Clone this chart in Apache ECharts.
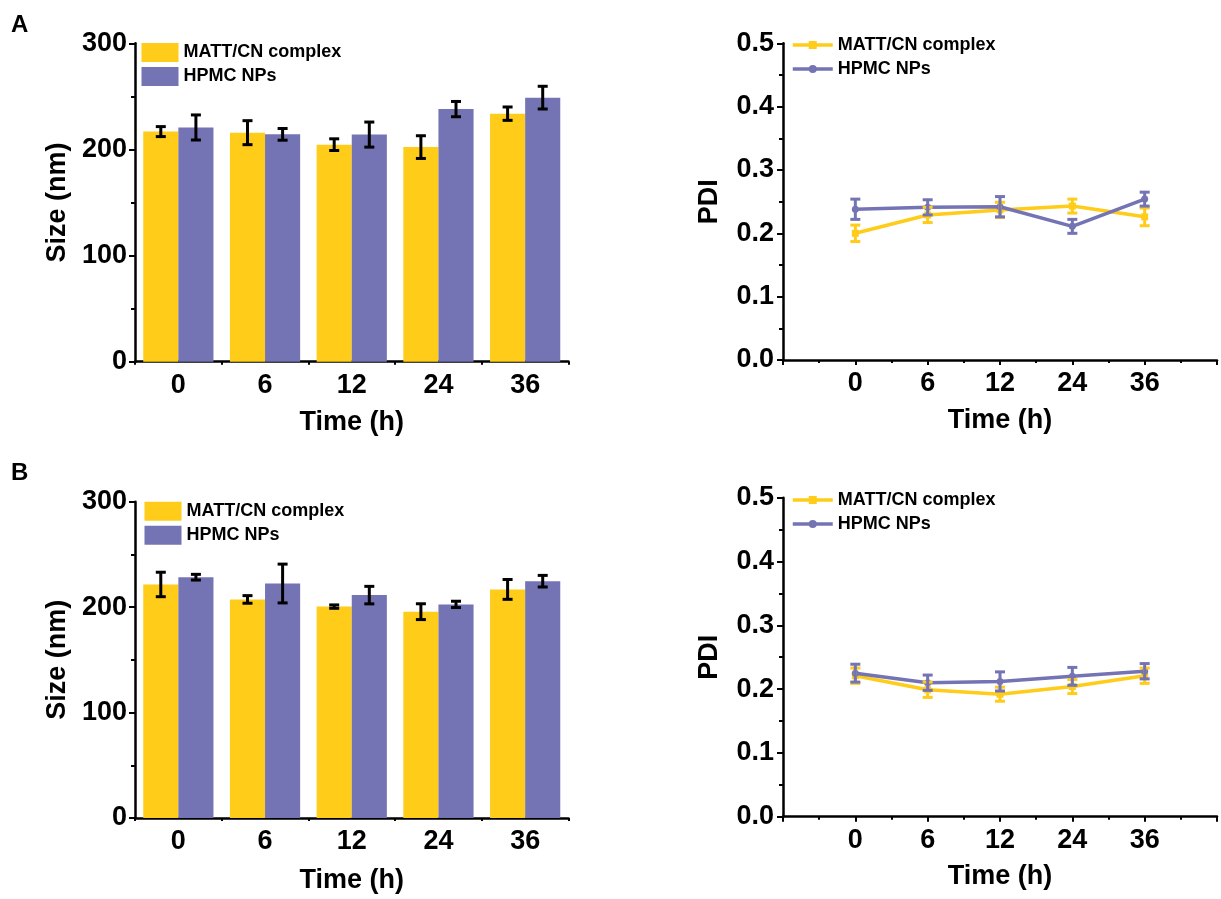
<!DOCTYPE html>
<html>
<head>
<meta charset="utf-8">
<script src="https://cdn.jsdelivr.net/npm/echarts@6/dist/echarts.min.js"></script>
<style>
  html, body { margin: 0; padding: 0; background: #fff; }
  #wrap { position: relative; width: 1221px; height: 899px; background: #fff; overflow: hidden; }
  .pane { position: absolute; }
</style>
</head>
<body>
<div id="wrap">
  <div id="tl" class="pane" style="left:0;top:0;width:610px;height:450px"></div>
  <div id="tr" class="pane" style="left:610px;top:0;width:611px;height:450px"></div>
  <div id="bl" class="pane" style="left:0;top:450px;width:610px;height:449px"></div>
  <div id="br" class="pane" style="left:610px;top:450px;width:611px;height:449px"></div>
</div>
<script>
// ---------------- DATA ----------------
const timeLabels = ['0', '6', '12', '24', '36'];
const seriesNames = ['MATT/CN complex', 'HPMC NPs'];

// Panel A – size (nm)
const sizeA_MATT     = [216.8, 215.8, 204.5, 202.2, 233.7];
const sizeA_MATT_err = [4.7, 11.3, 5.5, 10.7, 6.3];
const sizeA_HPMC     = [220.7, 214.2, 214.0, 238.0, 248.8];
const sizeA_HPMC_err = [11.8, 5.5, 11.8, 7.2, 10.7];
// Panel A – PDI
const pdiA_MATT      = [0.200, 0.229, 0.237, 0.243, 0.226];
const pdiA_MATT_err  = [0.013, 0.012, 0.012, 0.011, 0.014];
const pdiA_HPMC      = [0.238, 0.241, 0.242, 0.211, 0.254];
const pdiA_HPMC_err  = [0.016, 0.012, 0.016, 0.011, 0.011];

// Panel B – size (nm)
const sizeB_MATT     = [221.5, 207.3, 200.5, 195.7, 216.8];
const sizeB_MATT_err = [11.6, 3.6, 1.6, 7.5, 9.4];
const sizeB_HPMC     = [228.4, 222.4, 211.4, 202.6, 224.6];
const sizeB_HPMC_err = [2.7, 18.4, 8.3, 3.0, 5.5];
// Panel B – PDI
const pdiB_MATT      = [0.221, 0.199, 0.192, 0.204, 0.221];
const pdiB_MATT_err  = [0.012, 0.012, 0.011, 0.011, 0.012];
const pdiB_HPMC      = [0.225, 0.210, 0.212, 0.220, 0.228];
const pdiB_HPMC_err  = [0.014, 0.012, 0.015, 0.014, 0.012];

// ---------------- STYLE ----------------
const YELLOW = '#FECC19';
const PURPLE = '#7473B4';
const FONT = "'Liberation Sans', Arial, Helvetica, sans-serif";
const AXIS_FONT = 27;
const LEGEND_FONT = 18;
const CAT_GAP = 0.19;

function txt(size) {
  return { fontFamily: FONT, fontWeight: 'bold', fontSize: size, color: '#000' };
}

function errorBarSeries(vals, errs, color, xFn, capHalf, lineW, z) {
  return {
    type: 'custom',
    silent: true,
    z: z,
    data: vals.map((v, i) => [i, v, errs[i]]),
    renderItem: function (params, api) {
      const i = api.value(0), v = api.value(1), e = api.value(2);
      const top = api.coord([xFn(i), v + e]);
      const bot = api.coord([xFn(i), v - e]);
      const x = xFn.px ? xFn.px(api, top[0]) : top[0];
      const style = { stroke: color, lineWidth: lineW };
      return {
        type: 'group',
        children: [
          { type: 'line', shape: { x1: x, y1: top[1], x2: x, y2: bot[1] }, style: style },
          { type: 'line', shape: { x1: x - capHalf, y1: top[1], x2: x + capHalf, y2: top[1] }, style: style },
          { type: 'line', shape: { x1: x - capHalf, y1: bot[1], x2: x + capHalf, y2: bot[1] }, style: style }
        ]
      };
    }
  };
}

function barOption(cfg) {
  const mkErr = (vals, errs, side) => {
    const xFn = function (i) { return i; };
    xFn.px = function (api, cx) {
      const band = api.size([1, 0])[0];
      const barW = band * (1 - CAT_GAP) / 2;
      return cx + side * barW / 2;
    };
    return errorBarSeries(vals, errs, '#000', xFn, 5, 3, 10);
  };
  return {
    animation: false,
    backgroundColor: '#fff',
    graphic: [{
      type: 'text', left: 11, top: cfg.letterTop,
      style: { text: cfg.letter, font: 'bold 24px ' + FONT, fill: '#000' }
    }],
    legend: {
      orient: 'vertical', left: cfg.legendLeft, top: cfg.legendTop, padding: 0,
      itemWidth: 37, itemHeight: 19, itemGap: 5, icon: 'rect',
      textStyle: txt(LEGEND_FONT),
      data: seriesNames
    },
    grid: { left: 135, top: cfg.gridTop, width: 433.5, height: cfg.gridHeight },
    xAxis: [{
      type: 'category', data: timeLabels, position: 'bottom',
      name: 'Time (h)', nameLocation: 'middle', nameGap: cfg.nameGapX, nameTextStyle: txt(AXIS_FONT),
      axisLine: { lineStyle: { color: '#000', width: 2.5 } },
      axisTick: { alignWithLabel: true, length: 5, lineStyle: { color: '#000', width: 2 } },
      axisLabel: Object.assign(txt(AXIS_FONT), { margin: 10 }),
      splitLine: { show: false }
    }, {
      type: 'category', data: timeLabels, position: 'bottom', offset: 0,
      axisLine: { show: false },
      axisTick: { show: true, alignWithLabel: false, length: 3, lineStyle: { color: '#000', width: 2 } },
      axisLabel: { show: false },
      splitLine: { show: false }
    }],
    yAxis: {
      type: 'value', min: 0, max: 300, interval: 100,
      name: 'Size (nm)', nameLocation: 'middle', nameGap: 63, nameTextStyle: txt(AXIS_FONT),
      axisLine: { show: true, lineStyle: { color: '#000', width: 2.5 } },
      axisTick: { show: true, length: 6, lineStyle: { color: '#000', width: 2 } },
      minorTick: { show: true, splitNumber: 2, length: 4, lineStyle: { color: '#000', width: 2 } },
      axisLabel: Object.assign(txt(AXIS_FONT), { margin: 8 }),
      splitLine: { show: false }
    },
    series: [
      { name: seriesNames[0], type: 'bar', data: cfg.m, itemStyle: { color: YELLOW },
        barGap: '0%', barCategoryGap: (CAT_GAP * 100) + '%' },
      { name: seriesNames[1], type: 'bar', data: cfg.h, itemStyle: { color: PURPLE },
        barGap: '0%', barCategoryGap: (CAT_GAP * 100) + '%' },
      mkErr(cfg.m, cfg.me, -1),
      mkErr(cfg.h, cfg.he, 1)
    ]
  };
}

function lineOption(cfg) {
  const toXY = vals => vals.map((v, i) => [i + 1, v]);
  const xFn = function (i) { return i + 1; };
  return {
    animation: false,
    backgroundColor: '#fff',
    legend: {
      orient: 'vertical', left: 181, top: cfg.legendTop, padding: 0,
      itemWidth: 40, itemHeight: 10, itemGap: 6,
      lineStyle: { width: 3.5 },
      textStyle: txt(LEGEND_FONT),
      data: seriesNames
    },
    grid: { left: 173, top: cfg.gridTop, width: 434, height: cfg.gridHeight },
    xAxis: {
      type: 'value', min: 0, max: 6, interval: 1,
      name: 'Time (h)', nameLocation: 'middle', nameGap: cfg.nameGapX, nameTextStyle: txt(AXIS_FONT),
      axisLine: { show: true, lineStyle: { color: '#000', width: 2.5 } },
      axisTick: { show: true, length: 5, lineStyle: { color: '#000', width: 2 } },
      minorTick: { show: true, splitNumber: 2, length: 3, lineStyle: { color: '#000', width: 2 } },
      axisLabel: Object.assign(txt(AXIS_FONT), {
        margin: 10, showMinLabel: true, showMaxLabel: true,
        formatter: function (v) { return (v >= 1 && v <= 5) ? timeLabels[v - 1] : ''; }
      }),
      splitLine: { show: false }
    },
    yAxis: {
      type: 'value', min: 0, max: 0.5, interval: 0.1,
      name: 'PDI', nameLocation: 'middle', nameGap: 60, nameTextStyle: txt(AXIS_FONT),
      axisLine: { show: true, lineStyle: { color: '#000', width: 2.5 } },
      axisTick: { show: true, length: 6, lineStyle: { color: '#000', width: 2 } },
      minorTick: { show: true, splitNumber: 2, length: 4, lineStyle: { color: '#000', width: 2 } },
      axisLabel: Object.assign(txt(AXIS_FONT), { margin: 9, formatter: v => v.toFixed(1) }),
      splitLine: { show: false }
    },
    series: [
      { name: seriesNames[0], type: 'line', data: toXY(cfg.m), symbol: 'rect', symbolSize: 7,
        itemStyle: { color: YELLOW }, lineStyle: { color: YELLOW, width: 3.5 }, z: 3 },
      { name: seriesNames[1], type: 'line', data: toXY(cfg.h), symbol: 'circle', symbolSize: 7,
        itemStyle: { color: PURPLE }, lineStyle: { color: PURPLE, width: 3.5 }, z: 4 },
      errorBarSeries(cfg.m, cfg.me, YELLOW, xFn, 5, 3, 5),
      errorBarSeries(cfg.h, cfg.he, PURPLE, xFn, 5, 3, 6)
    ]
  };
}

echarts.init(document.getElementById('tl')).setOption(barOption({
  letter: 'A', letterTop: 13, legendLeft: 141.5, legendTop: 43,
  gridTop: 43.3, gridHeight: 318.4, nameGapX: 47,
  m: sizeA_MATT, me: sizeA_MATT_err, h: sizeA_HPMC, he: sizeA_HPMC_err
}));
echarts.init(document.getElementById('tr')).setOption(lineOption({
  legendTop: 36, gridTop: 43.3, gridHeight: 316.7, nameGapX: 47,
  m: pdiA_MATT, me: pdiA_MATT_err, h: pdiA_HPMC, he: pdiA_HPMC_err
}));
echarts.init(document.getElementById('bl')).setOption(barOption({
  letter: 'B', letterTop: 11, legendLeft: 144.5, legendTop: 51.7,
  gridTop: 51.7, gridHeight: 318.3, nameGapX: 49,
  m: sizeB_MATT, me: sizeB_MATT_err, h: sizeB_HPMC, he: sizeB_HPMC_err
}));
echarts.init(document.getElementById('br')).setOption(lineOption({
  legendTop: 41, gridTop: 47.7, gridHeight: 319, nameGapX: 46,
  m: pdiB_MATT, me: pdiB_MATT_err, h: pdiB_HPMC, he: pdiB_HPMC_err
}));
</script>
</body>
</html>
